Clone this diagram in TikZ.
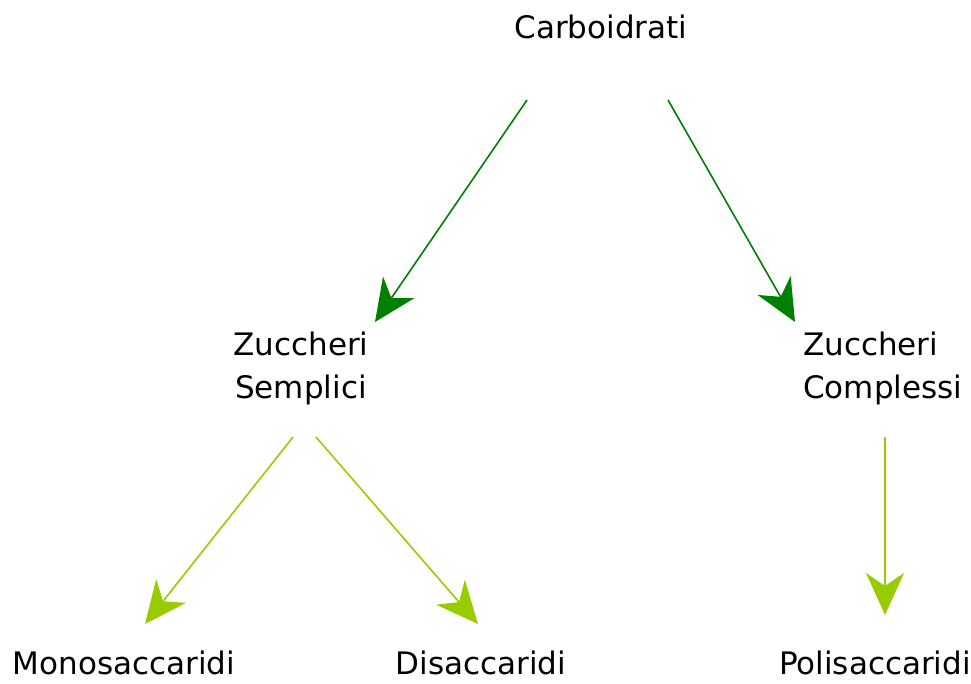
\documentclass[tikz,border=0pt]{standalone}
\usepackage{fontspec}
\setmainfont{DejaVu Sans}
\usetikzlibrary{arrows.meta}
\definecolor{darkarrow}{HTML}{008000}
\definecolor{lightarrow}{HTML}{99CC00}
\begin{document}
\begin{tikzpicture}[x=1pt,y=-1pt,
  lbl/.style={font=\fontsize{31}{43}\selectfont, inner sep=0pt, align=center},
  link/.style={line width=1.6pt, -{Stealth[length=42pt,width=38pt,inset=13pt]}},
  top/.style={link, darkarrow},
  low/.style={link, lightarrow}]
\useasboundingbox (0,0) rectangle (971,684);
% labels
\node[lbl] (carb) at (601,27) {Carboidrati};
\node[lbl] (semp) at (301,368) {Zuccheri\\Semplici};
\node[lbl, anchor=west, align=left] (comp) at (803,368) {Zuccheri\\Complessi};
\node[lbl] (mono) at (124,663) {Monosaccaridi};
\node[lbl] (disa) at (481,663) {Disaccaridi};
\node[lbl] (poli) at (875,663) {Polisaccaridi};
% connector ends
\coordinate (a1) at (527,100); \coordinate (b1) at (375,322);
\coordinate (a2) at (668,100); \coordinate (b2) at (795,322);
\coordinate (a3) at (293,437); \coordinate (b3) at (145,624);
\coordinate (a4) at (316,437); \coordinate (b4) at (478,624);
\coordinate (a5) at (885,437); \coordinate (b5) at (885,615);
% connectors
\draw[top] (a1) -- (b1);
\draw[top] (a2) -- (b2);
\draw[low] (a3) -- (b3);
\draw[low] (a4) -- (b4);
\draw[low] (a5) -- (b5);
\end{tikzpicture}
\end{document}
